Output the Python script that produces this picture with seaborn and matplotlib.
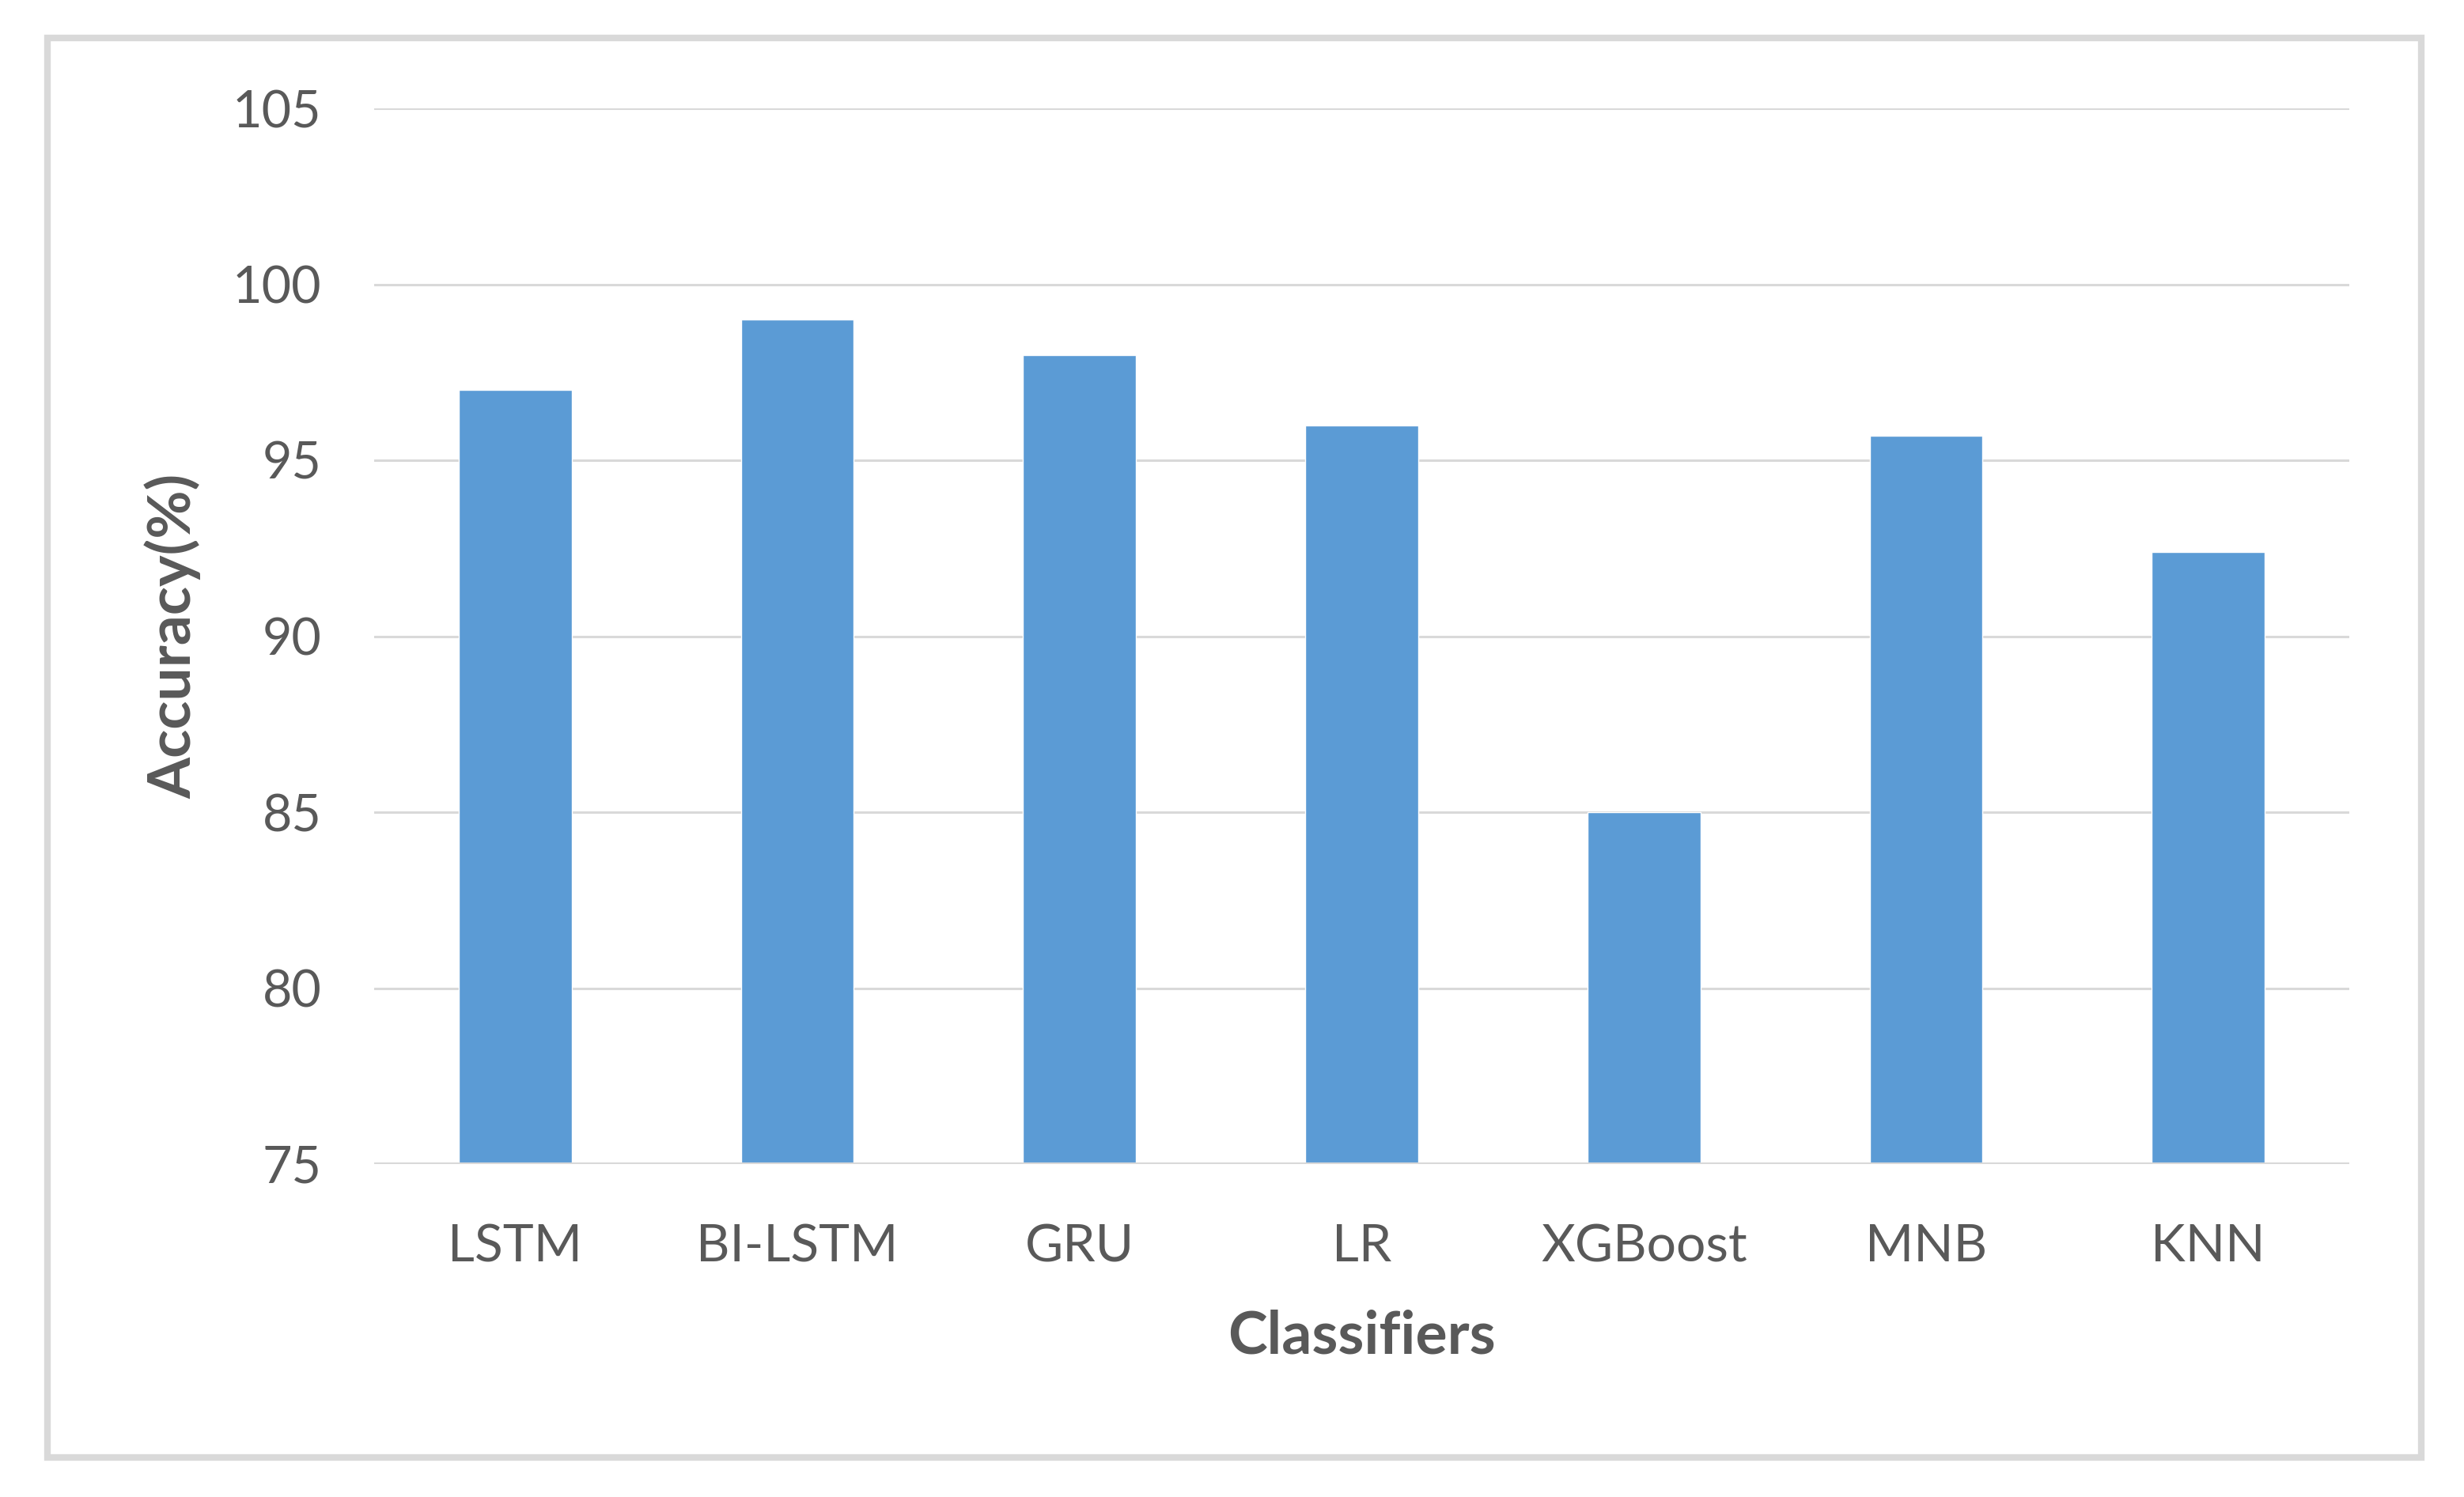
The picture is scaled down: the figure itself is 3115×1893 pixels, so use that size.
import matplotlib
matplotlib.use("Agg")
import matplotlib.pyplot as plt
import seaborn as sns
import pandas as pd
from matplotlib.patches import Rectangle

classifiers = ["LSTM", "BI-LSTM", "GRU", "LR", "XGBoost", "MNB", "KNN"]
accuracy = [97.0, 99.0, 98.0, 96.0, 85.0, 95.7, 92.4]
y_ticks = [75, 80, 85, 90, 95, 100, 105]

df = pd.DataFrame({"Classifiers": classifiers, "Accuracy": accuracy})

sns.set_theme(style="white")
plt.rcParams["font.family"] = ["Lato", "DejaVu Sans"]

W, H = 3115, 1893
DPI = 100
fig = plt.figure(figsize=(W / DPI, H / DPI), dpi=DPI)
ax = fig.add_axes([473 / W, 1 - 1472 / H, (2970 - 473) / W, (1472 - 137) / H])

text_c = "#595959"
grid_c = "#D9D9D9"

sns.barplot(data=df, x="Classifiers", y="Accuracy", color="#5B9BD5",
            saturation=1, width=0.4, ax=ax, zorder=3)

ax.set_ylim(75, 105)
ax.set_yticks(y_ticks)
ax.set_yticklabels([str(t) for t in y_ticks])
ax.set_xlim(-0.5, len(classifiers) - 0.5)

for t in y_ticks[1:]:
    ax.axhline(t, color=grid_c, lw=2.2, zorder=1)
ax.axhline(75, color=grid_c, lw=3, zorder=4)

for s in ax.spines.values():
    s.set_visible(False)

ax.tick_params(axis="y", length=0, pad=48, labelsize=46.5, labelcolor=text_c)
ax.tick_params(axis="x", length=0, pad=54, labelsize=47.5, labelcolor=text_c)

ax.set_xlabel("Classifiers", fontsize=54, fontweight="bold", color=text_c, labelpad=36)
ax.set_ylabel("Accuracy(%)", fontsize=54, fontweight="bold", color=text_c, labelpad=28)

# outer frame
fl, fr = 30 / 1568, 1541 / 1568
ft, fb = 1 - 24 / 953, 1 - 928 / 953
fig.patches.append(Rectangle((fl, fb), fr - fl, ft - fb, transform=fig.transFigure,
                             fill=False, edgecolor=grid_c, linewidth=6))

fig.savefig("out.png", dpi=DPI, facecolor="white")
